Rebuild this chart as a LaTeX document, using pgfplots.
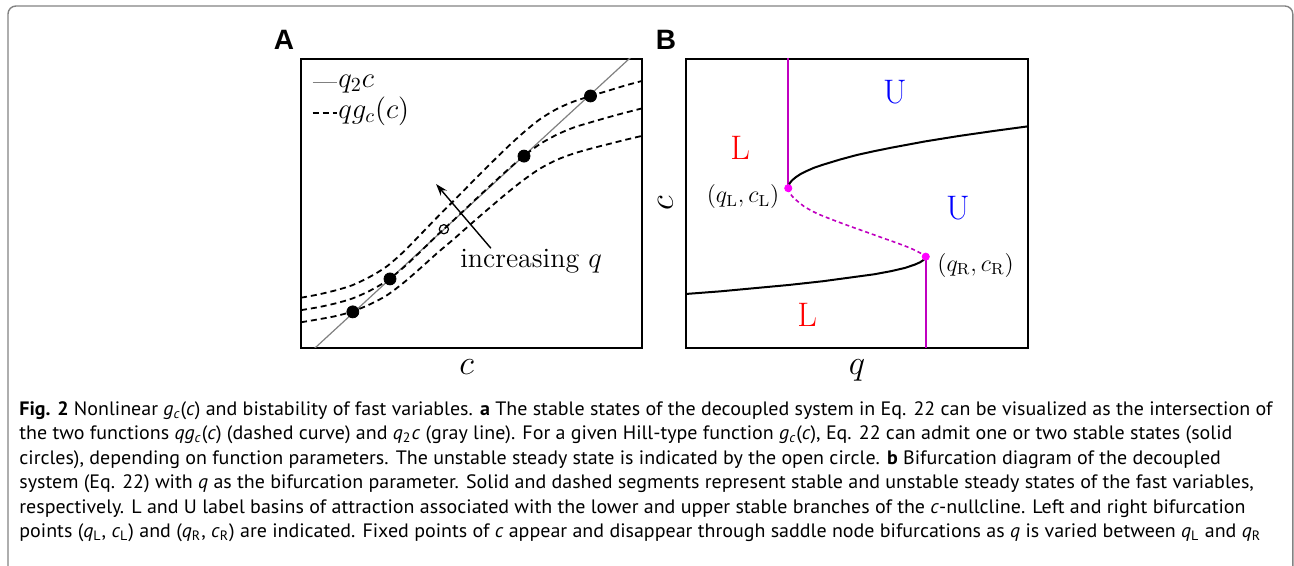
\documentclass[border=0pt]{standalone}
\usepackage{graphicx}
\usepackage{pgfplots}
\pgfplotsset{compat=1.18}
\usetikzlibrary{arrows.meta}
\usepackage{fontspec}
\newfontfamily\capfont{PT Sans}
\newfontfamily\labfont{Liberation Sans}
\definecolor{mline}{RGB}{192,0,192}
\definecolor{mdot}{RGB}{255,0,255}
\definecolor{frame}{RGB}{130,130,130}
\newcommand\ci[1]{\textit{#1}}
\newcommand\capA{\textbf{Fig. 2} Nonlinear \ci{g}\textsubscript{\ci{c}}(\ci{c}) and bistability of fast variables. \textbf{a} The stable states of the decoupled system in Eq. 22 can be visualized as the intersection of}
\newcommand\capB{the two functions \ci{qg}\textsubscript{\ci{c}}(\ci{c}) (dashed curve) and \ci{q}\textsubscript{2}\ci{c} (gray line). For a given Hill-type function \ci{g}\textsubscript{\ci{c}}(\ci{c}), Eq. 22 can admit one or two stable states (solid}
\newcommand\capC{circles), depending on function parameters. The unstable steady state is indicated by the open circle. \textbf{b} Bifurcation diagram of the decoupled}
\newcommand\capD{system (Eq. 22) with \ci{q} as the bifurcation parameter. Solid and dashed segments represent stable and unstable steady states of the fast variables,}
\newcommand\capE{respectively. L and U label basins of attraction associated with the lower and upper stable branches of the \ci{c}-nullcline. Left and right bifurcation}
\newcommand\capF{points (\ci{q}\textsubscript{L}, \ci{c}\textsubscript{L}) and (\ci{q}\textsubscript{R}, \ci{c}\textsubscript{R}) are indicated. Fixed points of \ci{c} appear and disappear through saddle node bifurcations as \ci{q} is varied between \ci{q}\textsubscript{L} and \ci{q}\textsubscript{R}}
\newlength\capw
\newcommand\capsx{1}
\AtBeginDocument{%
  \settowidth{\capw}{\capfont\fontsize{9.7}{12}\selectfont\capA}%
  \pgfmathsetmacro\capsx{626.5pt/\capw}%
}
\newcommand\capline[1]{\scalebox{\capsx}[1]{#1}}
\begin{document}
\begin{tikzpicture}
\useasboundingbox (0,0) rectangle (647pt,-283pt);
% outer frame
\draw[frame, line width=0.7pt, rounded corners=4pt] (4pt,-300pt) -- (4pt,-3pt) -- (646.4pt,-3pt) -- (646.4pt,-300pt);
% panel letters
\node[font=\labfont\bfseries\fontsize{14}{14}\selectfont] at (142pt,-20pt) {A};
\node[font=\labfont\bfseries\fontsize{14}{14}\selectfont] at (333pt,-20pt) {B};

% ---------- Panel A ----------
\begin{axis}[
  at={(150.5pt,-174pt)}, anchor=south west, scale only axis,
  width=170.5pt, height=144.5pt,
  xmin=0, xmax=1, ymin=0, ymax=1,
  xtick=\empty, ytick=\empty,
  axis line style={line width=0.6pt},
  xlabel={$c$},
  x label style={at={(axis description cs:0.486,-0.093)}, anchor=base, font=\fontsize{16}{16}\selectfont},
  legend style={at={(axis cs:0.03,0.975)}, anchor=north west, draw=none, fill=none, inner sep=0pt,
    font=\fontsize{14}{14}\selectfont, row sep=0pt,
    nodes={inner sep=0.5pt, text height=10pt, text depth=4.5pt}},
  legend cell align=left,
  legend image code/.code={\draw[#1] (0pt,0pt) -- (12pt,0pt);},
]
\addplot[gray, line width=0.6pt] coordinates {(0,-0.0445) (1,1.0415)};
\addlegendentry{$q_2c$}
\addplot[black, dash pattern=on 3pt off 2pt, line width=0.9pt, smooth] coordinates {
(0.00,0.174) (0.05,0.185) (0.10,0.199) (0.15,0.217) (0.20,0.245) (0.25,0.281) (0.30,0.332)
(0.35,0.392) (0.40,0.453) (0.45,0.512) (0.50,0.572) (0.55,0.631) (0.60,0.689) (0.65,0.743)
(0.70,0.791) (0.75,0.827) (0.80,0.853) (0.85,0.872) (0.90,0.890) (0.95,0.908) (1.00,0.924)};
\addlegendentry{$qg_c(c)$}
\addplot[black, dash pattern=on 3pt off 2pt, line width=0.9pt, smooth, forget plot] coordinates {
(0.00,0.131) (0.05,0.141) (0.10,0.154) (0.15,0.171) (0.20,0.197) (0.25,0.231) (0.30,0.278)
(0.35,0.333) (0.40,0.391) (0.45,0.445) (0.50,0.501) (0.55,0.556) (0.60,0.610) (0.65,0.661)
(0.70,0.705) (0.75,0.738) (0.80,0.763) (0.85,0.781) (0.90,0.798) (0.95,0.814) (1.00,0.829)};
\addplot[black, dash pattern=on 3pt off 2pt, line width=0.9pt, smooth, forget plot] coordinates {
(0.00,0.089) (0.05,0.099) (0.10,0.110) (0.15,0.126) (0.20,0.150) (0.25,0.181) (0.30,0.225)
(0.35,0.276) (0.40,0.329) (0.45,0.379) (0.50,0.431) (0.55,0.482) (0.60,0.532) (0.65,0.579)
(0.70,0.620) (0.75,0.651) (0.80,0.673) (0.85,0.690) (0.90,0.705) (0.95,0.720) (1.00,0.734)};
\addplot[only marks, mark=*, mark size=3pt, black, forget plot] coordinates {
(0.152,0.125) (0.261,0.239) (0.654,0.664) (0.849,0.872)};
\addplot[only marks, mark=o, mark size=2.3pt, black, mark options={fill=white, line width=0.6pt}, forget plot] coordinates {(0.419,0.411)};
\draw[-{Stealth[length=6pt,width=4pt]}, line width=0.7pt] (axis cs:0.557,0.345) -- (axis cs:0.396,0.5675);
\node[anchor=base west, font=\fontsize{14}{14}\selectfont, inner sep=0pt] at (axis cs:0.466,0.277) {increasing $q$};
\end{axis}

% ---------- Panel B ----------
\begin{axis}[
  at={(343pt,-174pt)}, anchor=south west, scale only axis,
  width=171pt, height=144.5pt,
  xmin=0, xmax=1, ymin=0, ymax=1,
  xtick=\empty, ytick=\empty,
  axis line style={line width=0.6pt},
  xlabel={$q$}, ylabel={$c$},
  x label style={at={(axis description cs:0.5,-0.093)}, anchor=base, font=\fontsize{16}{16}\selectfont},
  y label style={at={(axis description cs:-0.06,0.5)}, anchor=center, font=\fontsize{16}{16}\selectfont},
]
\addplot[mline, line width=0.9pt] coordinates {(0.299,0.553) (0.299,1.05)};
\addplot[mline, line width=0.9pt] coordinates {(0.701,-0.05) (0.701,0.316)};
\addplot[black, line width=1pt] coordinates {
(0.299,0.553) (0.300,0.561) (0.302,0.567) (0.305,0.573) (0.310,0.580) (0.320,0.590) (0.335,0.602)
(0.350,0.611) (0.375,0.624) (0.400,0.634) (0.450,0.652) (0.500,0.668) (0.550,0.681) (0.600,0.693)
(0.700,0.715) (0.800,0.734) (0.900,0.751) (1.000,0.767)};
\addplot[black, line width=1pt] coordinates {
(0,0.187) (0.1,0.196) (0.2,0.207) (0.3,0.218) (0.4,0.231) (0.5,0.247) (0.55,0.255) (0.6,0.266)
(0.64,0.277) (0.67,0.289) (0.685,0.297) (0.695,0.305) (0.699,0.310) (0.701,0.316)};
\addplot[mline, line width=0.8pt, dash pattern=on 2pt off 1.5pt, smooth] coordinates {
(0.299,0.553) (0.303,0.538) (0.312,0.523) (0.324,0.510) (0.345,0.490) (0.382,0.466) (0.430,0.443)
(0.480,0.421) (0.530,0.400) (0.577,0.380) (0.620,0.362) (0.655,0.346) (0.680,0.332) (0.693,0.323) (0.701,0.316)};
\addplot[only marks, mark=*, mark size=1.8pt, color=mdot] coordinates {(0.299,0.553) (0.701,0.316)};
\node[text=blue, font=\fontsize{17}{17}\selectfont] at (axis cs:0.611,0.886) {U};
\node[text=blue, font=\fontsize{17}{17}\selectfont] at (axis cs:0.795,0.484) {U};
\node[text=red, font=\fontsize{17}{17}\selectfont] at (axis cs:0.158,0.692) {L};
\node[text=red, font=\fontsize{17}{17}\selectfont] at (axis cs:0.354,0.114) {L};
\node[anchor=east, font=\fontsize{12}{12}\selectfont, inner sep=1pt] at (axis cs:0.280,0.524) {$(q_{\mathrm{L}},c_{\mathrm{L}})$};
\node[anchor=west, font=\fontsize{12}{12}\selectfont, inner sep=1pt] at (axis cs:0.728,0.287) {$(q_{\mathrm{R}},c_{\mathrm{R}})$};
\end{axis}

% ---------- caption ----------
\begin{scope}[every node/.style={anchor=base west, inner sep=0pt, font=\capfont\fontsize{9.7}{12.2}\selectfont}]
\node at (9.5pt,-207.75pt) {\capline{\capA}};
\node at (9.5pt,-219.95pt) {\capline{\capB}};
\node at (9.5pt,-232.15pt) {\capline{\capC}};
\node at (9.5pt,-244.35pt) {\capline{\capD}};
\node at (9.5pt,-256.55pt) {\capline{\capE}};
\node at (9.5pt,-268.75pt) {\capline{\capF}};
\end{scope}
\end{tikzpicture}
\end{document}
